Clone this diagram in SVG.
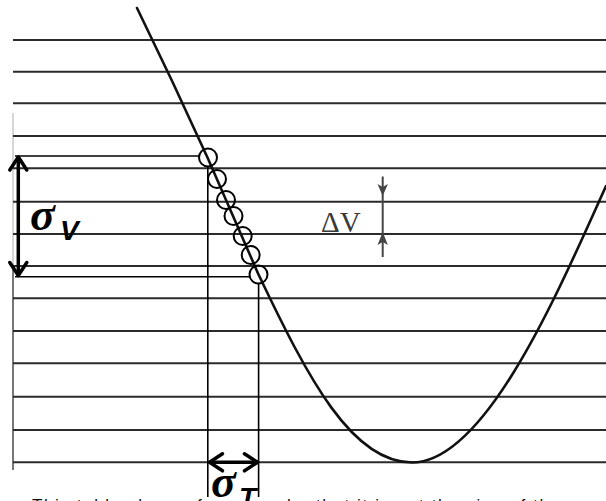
<svg xmlns="http://www.w3.org/2000/svg" width="606" height="501" viewBox="0 0 606 501">
<style>
.grid{stroke:#2b2b2b;stroke-width:2;fill:none}
.thin{stroke:#000;stroke-width:1.6;fill:none}
.curve{stroke:#111;stroke-width:2.6;fill:none;stroke-linejoin:round;stroke-linecap:round}
.pt{stroke:#000;stroke-width:2;fill:none}
.dbl{stroke:#000;stroke-width:3.5;fill:none}
.sig{font-family:"Liberation Serif","DejaVu Serif",serif;font-style:italic;font-weight:bold;fill:#000}
.sub{font-family:"Liberation Sans",Arial,sans-serif;font-style:italic;font-weight:bold;fill:#000}
.dv{font-family:"Liberation Serif","DejaVu Serif",serif;fill:#3a3a3a}
.cap{font-family:"Liberation Sans",Arial,sans-serif;fill:#111}
</style>
<defs>
<marker id="chev" markerUnits="userSpaceOnUse" markerWidth="30" markerHeight="30" viewBox="0 0 30 30" refX="15" refY="15" orient="auto-start-reverse" overflow="visible">
<path d="M2,6.5 L15,15 L2,23.5" stroke="#000" stroke-width="3.5" fill="none" stroke-linecap="round" stroke-linejoin="round"/>
</marker>
</defs>
<rect width="606" height="501" fill="#fff"/>
<g id="grid">
<line x1="13" y1="113" x2="13" y2="270" stroke="#d6d6d6" stroke-width="2"/>
<line x1="13" y1="270" x2="13" y2="470" stroke="#777" stroke-width="2"/>
<path class="grid" d="M13,40H606M13,71.7H606M13,103.3H606M13,136H606M13,168.3H606M13,201.7H606M13,234H606M13,266H606M13,298.3H606M13,331H606M13,363.3H606M13,396.7H606M13,430H606M13,462.3H606"/>
</g>
<g id="curve">
<path class="curve" d="M137,8 C160,55 185,108 207.7,158 L258.3,274 C308.3,379 352,462.5 412,462.5 C487,462.5 561,285 606,186"/>
</g>
<g id="samples">
<circle class="pt" cx="208" cy="157.5" r="9"/>
<circle class="pt" cx="217" cy="179" r="9"/>
<circle class="pt" cx="226" cy="200" r="9"/>
<circle class="pt" cx="233.5" cy="216" r="9"/>
<circle class="pt" cx="242.7" cy="236" r="9"/>
<circle class="pt" cx="250.7" cy="255" r="9"/>
<circle class="pt" cx="258.5" cy="274.5" r="9"/>
</g>
<g id="connectors">
<line class="thin" x1="15" y1="156" x2="199" y2="156"/>
<line class="thin" x1="15" y1="276.7" x2="250" y2="276.7"/>
<line class="thin" x1="207.8" y1="166" x2="207.8" y2="497"/>
<line class="thin" x1="258.6" y1="283" x2="258.6" y2="497"/>
<line class="dbl" x1="18.3" y1="157" x2="18.3" y2="275.5" marker-start="url(#chev)" marker-end="url(#chev)"/>
<line class="dbl" x1="209.5" y1="462.3" x2="257.5" y2="462.3" marker-start="url(#chev)" marker-end="url(#chev)"/>
<line x1="382.7" y1="176.5" x2="382.7" y2="257" stroke="#444" stroke-width="2"/>
<path d="M377.5,184 L382.7,187 L387.9,184 L382.7,196 Z" fill="#444"/>
<path d="M377.5,245 L382.7,242 L387.9,245 L382.7,232 Z" fill="#444"/>
</g>
<g id="label-sigmaV">
<text class="sig" x="30" y="230" font-size="46">σ</text>
<text class="sub" x="60" y="240" font-size="28">V</text>
</g>
<g id="label-deltaV">
<text class="dv" x="321" y="231.5" font-size="29">ΔV</text>
</g>
<g id="label-sigmaT">
<text class="sig" x="211" y="497" font-size="46">σ</text>
<text class="sub" x="239" y="507" font-size="28">T</text>
</g>
<g id="caption">
<text class="cap" x="32" y="510.5" font-size="17" textLength="528" lengthAdjust="spacing">This table shows, for example, that it is not the size of the</text>
</g>
</svg>
